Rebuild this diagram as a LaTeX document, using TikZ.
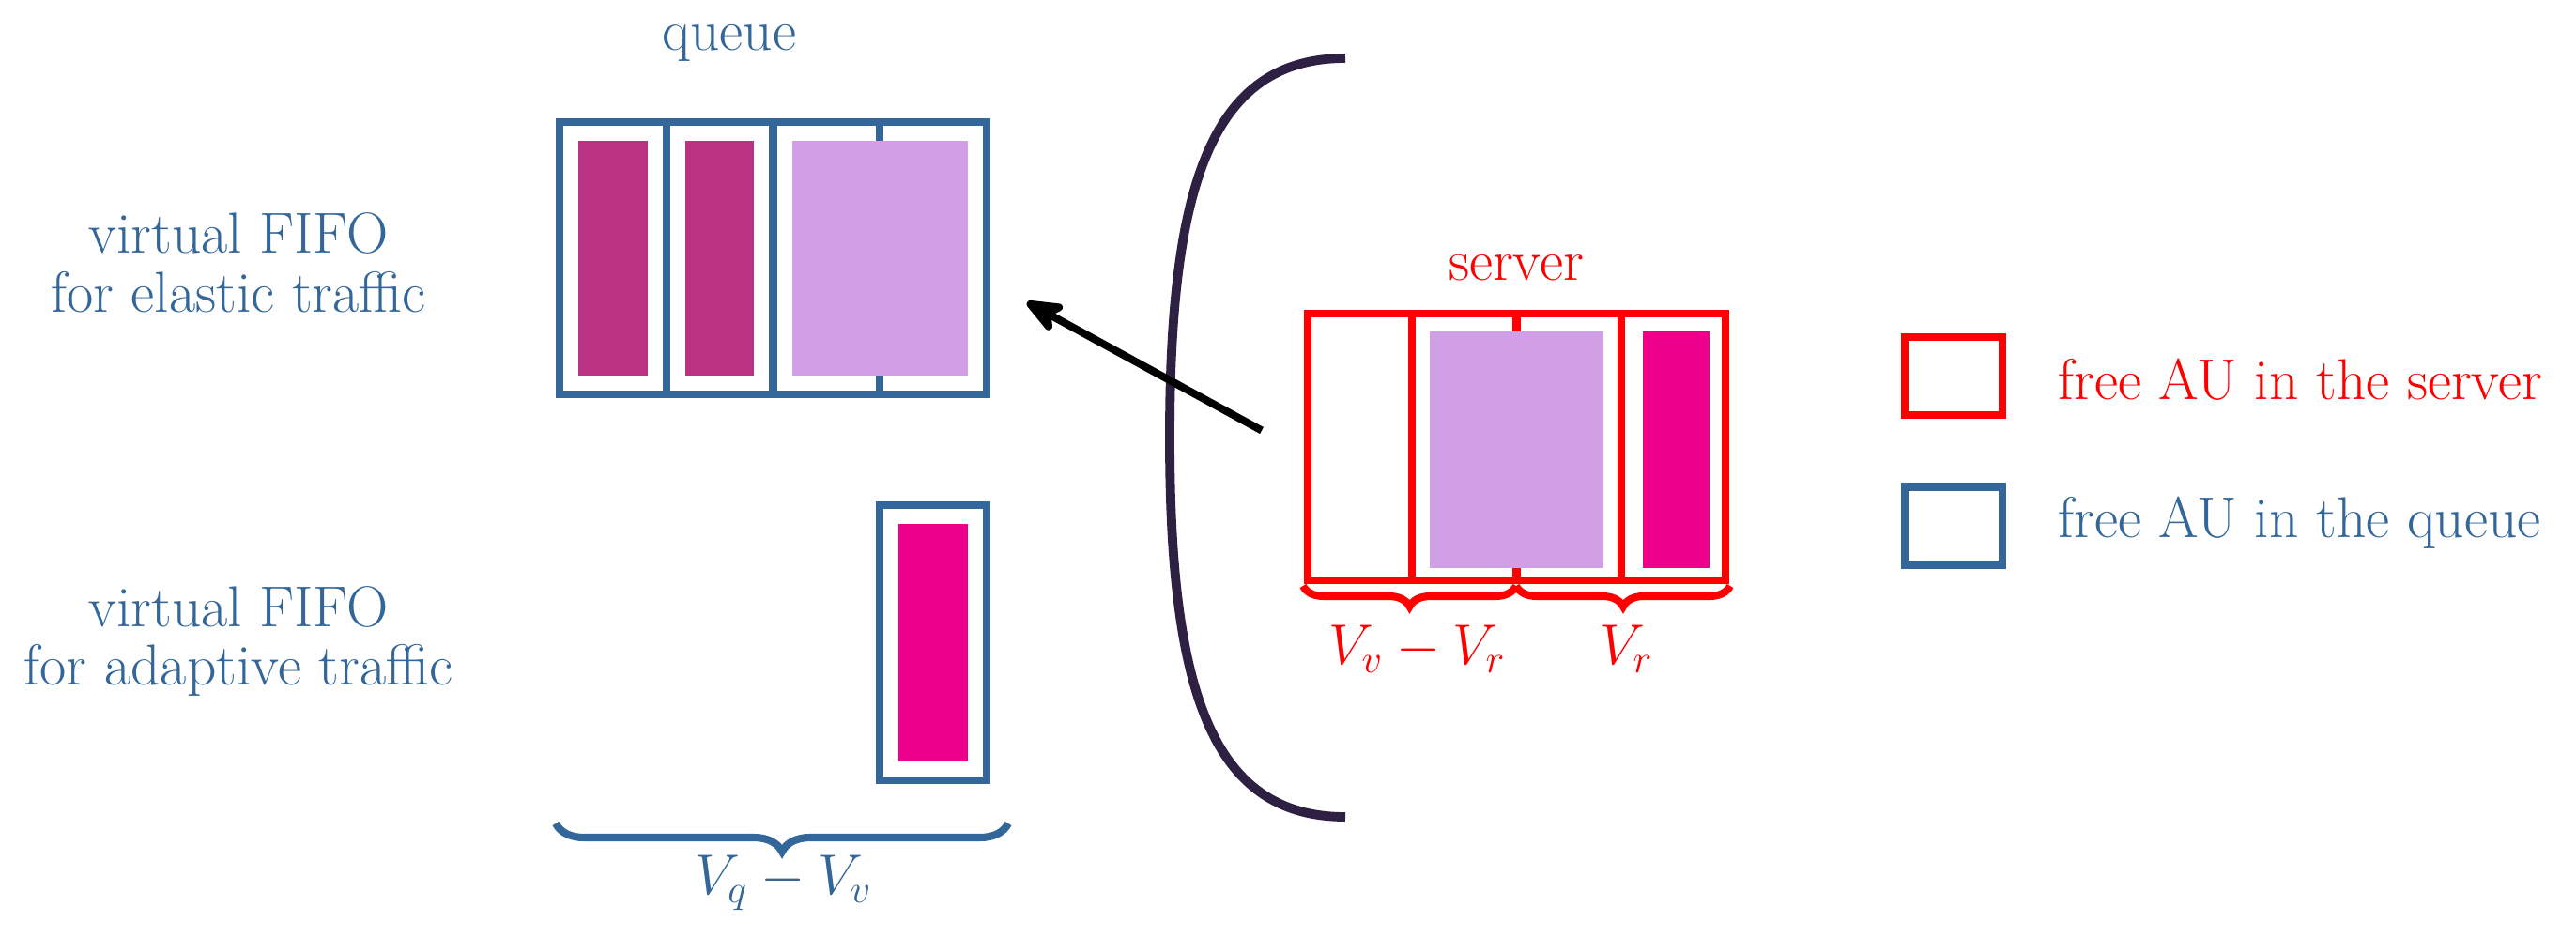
\documentclass[tikz,border=0pt]{standalone}
\usepackage{xcolor}
\usepackage{tikz}
\usetikzlibrary{decorations.pathreplacing, arrows.meta}
\definecolor{QueueBlue}{HTML}{336699}
\definecolor{ServerRed}{HTML}{FF0000}
\definecolor{ElasticPlum}{HTML}{BA3382}
\definecolor{Lilac}{HTML}{D09FE6}
\definecolor{AdaptivePink}{HTML}{EC008C}
\definecolor{CurveInk}{HTML}{2E2042}

\begin{document}
\begin{tikzpicture}[
  font=\fontsize{17.5pt}{17.9pt}\selectfont,
  cell/.style={rectangle, draw, line width=2.3pt, minimum width=1.1375cm, minimum height=2.9cm, inner sep=0pt},
  bar/.style={rectangle, inner sep=0pt, minimum width=0.735cm, minimum height=2.5cm},
  legendbox/.style={rectangle, draw, line width=2.3pt, minimum width=1.04cm, minimum height=0.83cm, inner sep=0pt},
  curly/.style={decorate, decoration={brace, mirror, amplitude=#1}, line width=2.3pt},
  arrow/.style={-{Stealth[length=0.5cm, width=0.4cm, inset=0.14cm, round]}, line width=2.3pt, draw=black}
]
\useasboundingbox (0,0) rectangle (27.44,9.98);
% labels on the left
\node[text=QueueBlue, align=center] (elastic) at (2.54,7.18) {virtual FIFO\\for elastic traffic};
\node[text=QueueBlue, align=center] (adaptive) at (2.54,3.15) {virtual FIFO\\for adaptive traffic};
\node[text=QueueBlue] (qtitle) at (7.77,9.52) {queue};
% elastic queue
\node[cell, draw=QueueBlue] (e1) at (6.529,7.23) {};
\node[cell, draw=QueueBlue] (e2) at (7.666,7.23) {};
\node[cell, draw=QueueBlue] (e3) at (8.804,7.23) {};
\node[cell, draw=QueueBlue] (e4) at (9.941,7.23) {};
\node[bar, fill=ElasticPlum] (p1) at (e1) {};
\node[bar, fill=ElasticPlum] (p2) at (e2) {};
\node[bar, fill=Lilac, minimum width=1.875cm] (p3) at (9.3725,7.23) {};
% adaptive queue
\node[cell, draw=QueueBlue, minimum height=2.93cm] (a1) at (9.941,3.135) {};
\node[bar, fill=AdaptivePink, minimum height=2.53cm] (p4) at (a1) {};
\coordinate (qbl) at (5.92,1.21);
\coordinate (qbr) at (10.74,1.21);
\draw[curly=0.3cm, draw=QueueBlue] (qbl) -- (qbr);
\node[text=QueueBlue] (vqv) at (8.35,0.58) {$V_q - V_v$};
% server
\coordinate (ptop) at (14.33,9.36);
\coordinate (pbot) at (14.33,1.28);
\draw[CurveInk, line width=2.8pt] (ptop) .. controls (12.9,9.36) and (12.46,8.0) .. (12.46,5.32) .. controls (12.46,2.64) and (12.9,1.28) .. (pbot);
\node[text=ServerRed] (stitle) at (16.15,7.13) {server};
\node[cell, draw=ServerRed, minimum width=1.1125cm, minimum height=2.84cm] (s1) at (14.486,5.22) {};
\node[cell, draw=ServerRed, minimum width=1.1125cm, minimum height=2.84cm] (s2) at (15.599,5.22) {};
\node[cell, draw=ServerRed, minimum width=1.1125cm, minimum height=2.84cm] (s3) at (16.711,5.22) {};
\node[cell, draw=ServerRed, minimum width=1.1125cm, minimum height=2.84cm] (s4) at (17.824,5.22) {};
\node[bar, fill=Lilac, minimum width=1.85cm, minimum height=2.52cm] (p5) at (16.155,5.19) {};
\node[bar, fill=AdaptivePink, minimum width=0.71cm, minimum height=2.52cm] (p6) at (17.85,5.19) {};
\coordinate (sbl) at (13.88,3.74);
\coordinate (sbm) at (16.15,3.74);
\coordinate (sbr) at (18.43,3.74);
\draw[curly=0.22cm, draw=ServerRed] (sbl) -- (sbm);
\draw[curly=0.22cm, draw=ServerRed] (sbm) -- (sbr);
\node[text=ServerRed] (vvr) at (15.1,3.07) {$V_v - V_r$};
\node[text=ServerRed] (vr) at (17.33,3.07) {$V_r$};
% arrow from server to queue
\coordinate (atail) at (13.44,5.395);
\coordinate (ahead) at (10.94,6.76);
\draw[arrow] (atail) -- (ahead);
% legend
\node[legendbox, draw=ServerRed] (fs) at (20.81,5.975) {};
\node[legendbox, draw=QueueBlue] (fq) at (20.81,4.38) {};
\node[text=ServerRed, anchor=west] (fstext) at (21.8,5.94) {free AU in the server};
\node[text=QueueBlue, anchor=west] (fqtext) at (21.8,4.415) {free AU in the queue};
\end{tikzpicture}
\end{document}
